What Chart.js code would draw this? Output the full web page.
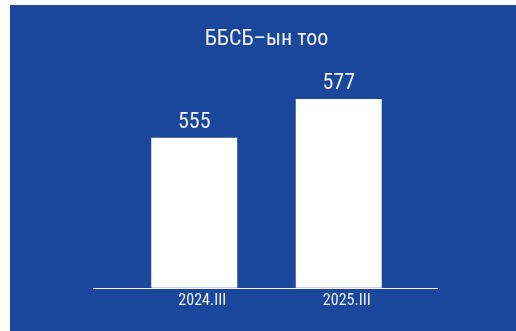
<!DOCTYPE html>
<html>
<head>
<meta charset="utf-8">
<script src="https://cdn.jsdelivr.net/npm/chart.js@4/dist/chart.umd.min.js"></script>
<style>
  html, body { margin: 0; padding: 0; background: #ffffff; }
  canvas { display: block; }
</style>
</head>
<body>
<canvas id="chart" width="516" height="331"></canvas>
<script>
const TITLE = 'ББСБ–ын тоо';
const PERIODS = ['2024.III', '2025.III'];
const BANK_COUNTS = [555, 577];
const Y_MIN = 470;
const Y_MAX = 600;

const BLUE = '#1a479b';
const TEXT = '#eef1f8';
const FONT = "'Liberation Sans Narrow', 'Roboto Condensed', 'Arial Narrow', sans-serif";

// blue panel behind the chart (white strip on the left/top like the original)
const panelBg = {
  id: 'panelBg',
  beforeDraw(chart) {
    const ctx = chart.ctx;
    ctx.save();
    ctx.fillStyle = BLUE;
    ctx.fillRect(10, 5, chart.width - 10, chart.height - 5);
    ctx.restore();
  },
};

// baseline runs wider than the bars
const baseline = {
  id: 'baseline',
  afterDatasetsDraw(chart) {
    const ctx = chart.ctx;
    const y = Math.round(chart.chartArea.bottom) + 0.5;
    ctx.save();
    ctx.strokeStyle = '#f4f6fb';
    ctx.lineWidth = 1;
    ctx.beginPath();
    ctx.moveTo(93, y);
    ctx.lineTo(438, y);
    ctx.stroke();
    ctx.restore();
  },
};

// value labels on top of bars
const valueLabels = {
  id: 'valueLabels',
  afterDatasetsDraw(chart) {
    const ctx = chart.ctx;
    const meta = chart.getDatasetMeta(0);
    ctx.save();
    ctx.fillStyle = TEXT;
    ctx.font = '22px ' + FONT;
    ctx.textAlign = 'center';
    ctx.textBaseline = 'alphabetic';
    meta.data.forEach((bar, i) => {
      ctx.fillText(String(BANK_COUNTS[i]), bar.x, bar.y - 10);
    });
    ctx.restore();
  },
};

new Chart(document.getElementById('chart'), {
  type: 'bar',
  data: {
    labels: PERIODS,
    datasets: [
      {
        data: BANK_COUNTS,
        backgroundColor: '#ffffff',
        borderWidth: 0,
        categoryPercentage: 1,
        barPercentage: 0.595,
      },
    ],
  },
  options: {
    responsive: false,
    animation: false,
    layout: {
      padding: { left: 122, right: 105, top: 0, bottom: 16 },
    },
    plugins: {
      legend: { display: false },
      tooltip: { enabled: false },
      title: {
        display: true,
        text: TITLE,
        color: TEXT,
        font: { family: FONT, size: 22, weight: 'normal' },
        padding: { top: 26, bottom: 6 },
      },
    },
    scales: {
      x: {
        grid: { display: false, drawTicks: false },
        border: { display: false },
        ticks: {
          color: TEXT,
          padding: 4,
          labelOffset: 8,
          font: { family: FONT, size: 16 },
        },
      },
      y: {
        display: false,
        min: Y_MIN,
        max: Y_MAX,
      },
    },
  },
  plugins: [panelBg, baseline, valueLabels],
});
</script>
</body>
</html>
